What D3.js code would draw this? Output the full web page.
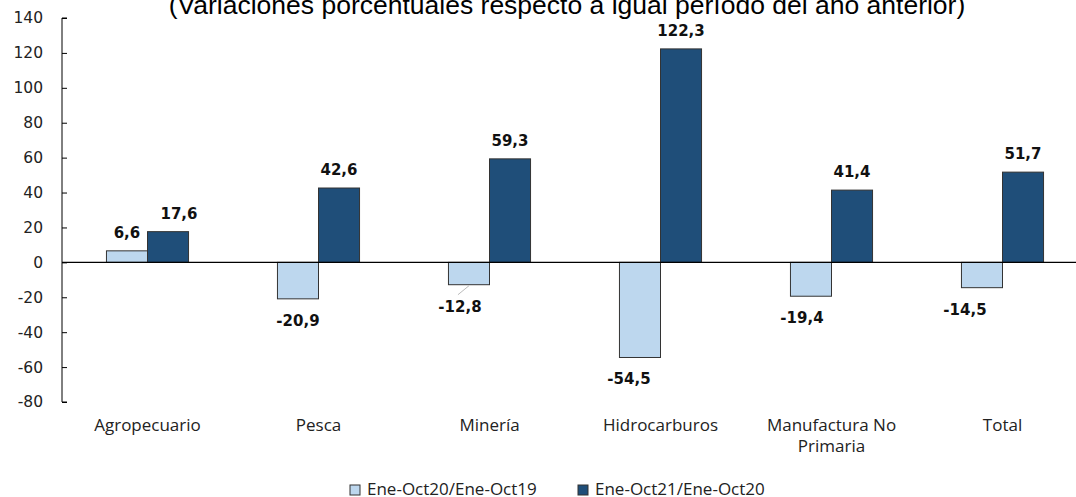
<!DOCTYPE html>
<html>
<head>
<meta charset="utf-8">
<script src="https://cdn.jsdelivr.net/npm/d3@7"></script>
<style>
  body { margin: 0; background: #fff; }
  svg { display: block; }
</style>
</head>
<body>
<div id="chart"></div>
<script>
const categories = ["Agropecuario", "Pesca", "Minería", "Hidrocarburos", "Manufactura No Primaria", "Total"];
const seriesNames = ["Ene-Oct20/Ene-Oct19", "Ene-Oct21/Ene-Oct20"];
const values2020 = [6.6, -20.9, -12.8, -54.5, -19.4, -14.5];
const values2021 = [17.6, 42.6, 59.3, 122.3, 41.4, 51.7];
const yTicks = [-80, -60, -40, -20, 0, 20, 40, 60, 80, 100, 120, 140];
const title = "(Variaciones porcentuales respecto a igual período del año anterior)";

const width = 1076, height = 497;
const colors = ["#BDD7EE", "#1F4E79"];
// small horizontal nudges for the data labels, like the original layout
const nudge = [[0, 0, -9, -11, -9, -17], [11, 0, 0, 0, 0, 0]];

const svg = d3.select("#chart").append("svg")
    .attr("width", width)
    .attr("height", height);

const x = d3.scaleBand()
    .domain(categories)
    .range([62, 1088])
    .paddingInner(0.52)
    .paddingOuter(0.26);

const xs = d3.scaleBand()
    .domain(seriesNames)
    .range([0, x.bandwidth()]);

const y = d3.scaleLinear()
    .domain([-80, 140])
    .range([402, 18]);

// plain hyphen for negatives, comma for decimals
const fmtTick = v => String(v);
const fmt = v => v.toFixed(1).replace(".", ",");

// title (top is cut off in the original)
svg.append("text")
    .attr("x", 567)
    .attr("y", 14)
    .attr("text-anchor", "middle")
    .style("font-family", "'Liberation Sans', Arial, sans-serif")
    .style("font-size", "26.5px")
    .attr("fill", "#000")
    .text(title);

// y axis, ticks pointing inside
const yAxis = svg.append("g")
    .attr("transform", "translate(62,0)")
    .call(d3.axisLeft(y).tickValues(yTicks).tickSize(-5).tickPadding(19).tickFormat(fmtTick));
yAxis.select(".domain").attr("stroke", "#000").attr("d", `M5,${y(140)}H0V${y(-80)}H5`);
yAxis.selectAll(".tick line").attr("stroke", "#000");
yAxis.selectAll(".tick text")
    .style("font-family", "'DejaVu Sans', sans-serif")
    .style("font-size", "15.5px")
    .attr("fill", "#222");

const data = [];
categories.forEach((c, i) => {
    data.push({ cat: c, s: 0, v: values2020[i], i: i });
    data.push({ cat: c, s: 1, v: values2021[i], i: i });
});

svg.append("g").selectAll("rect")
    .data(data)
    .join("rect")
    .attr("x", d => x(d.cat) + xs(seriesNames[d.s]))
    .attr("y", d => y(Math.max(0, d.v)))
    .attr("width", xs.bandwidth())
    .attr("height", d => Math.abs(y(d.v) - y(0)))
    .attr("fill", d => colors[d.s])
    .attr("stroke", "#333")
    .attr("stroke-width", 1);

// zero line
svg.append("line")
    .attr("x1", 62).attr("x2", width)
    .attr("y1", y(0)).attr("y2", y(0))
    .attr("stroke", "#000").attr("stroke-width", 1.2);

// leader line for Minería negative label
const mx = x("Minería") + xs(seriesNames[0]) + xs.bandwidth() / 2;
svg.append("line")
    .attr("x1", mx).attr("y1", y(values2020[2]) + 1)
    .attr("x2", mx - 11).attr("y2", y(values2020[2]) + 10)
    .attr("stroke", "#bbb").attr("stroke-width", 1);

svg.append("g").selectAll("text")
    .data(data)
    .join("text")
    .attr("x", d => x(d.cat) + xs(seriesNames[d.s]) + xs.bandwidth() / 2 + nudge[d.s][d.i])
    .attr("y", d => d.v >= 0 ? y(d.v) - 13 : y(d.v) + 27)
    .attr("text-anchor", "middle")
    .style("font-family", "'DejaVu Sans', sans-serif")
    .style("font-weight", "bold")
    .style("font-size", "15px")
    .attr("fill", "#111")
    .text(d => fmt(d.v));

// category labels (wrapped like the original)
const catLines = { "Manufactura No Primaria": ["Manufactura No", "Primaria"] };
const catG = svg.append("g");
categories.forEach(c => {
    const lines = catLines[c] || [c];
    const t = catG.append("text")
        .attr("x", x(c) + x.bandwidth() / 2)
        .attr("y", 431)
        .attr("text-anchor", "middle")
        .style("font-family", "'Open Sans', sans-serif")
        .style("font-size", "17px")
        .attr("fill", "#222");
    lines.forEach((l, k) => {
        t.append("tspan")
            .attr("x", x(c) + x.bandwidth() / 2)
            .attr("dy", k === 0 ? 0 : 21)
            .text(l);
    });
});

// legend
const legendX = [350, 578];
const legend = svg.append("g");
seriesNames.forEach((s, i) => {
    legend.append("rect")
        .attr("x", legendX[i]).attr("y", 485)
        .attr("width", 10).attr("height", 10)
        .attr("fill", colors[i])
        .attr("stroke", "#333").attr("stroke-width", 1);
    legend.append("text")
        .attr("x", legendX[i] + 17).attr("y", 495)
        .style("font-family", "'Open Sans', sans-serif")
        .style("font-size", "17px")
        .attr("fill", "#222")
        .text(s);
});
</script>
</body>
</html>
